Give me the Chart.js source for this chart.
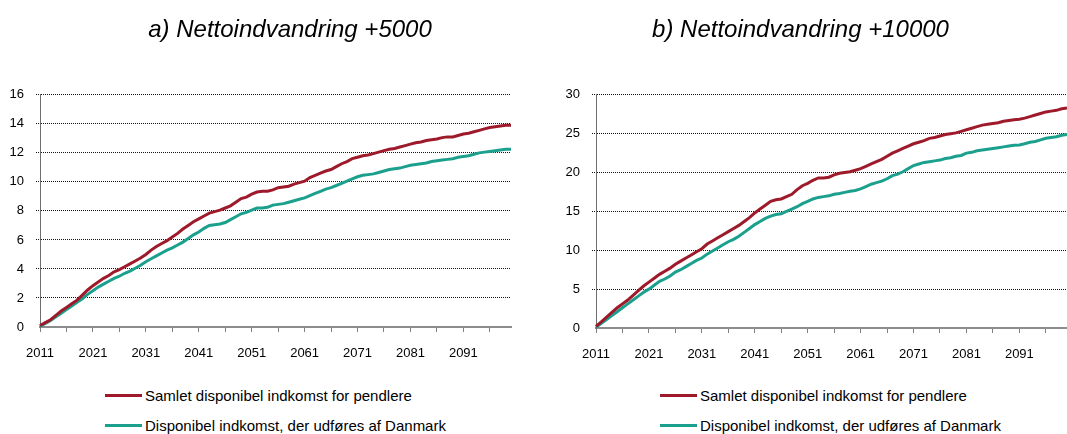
<!DOCTYPE html>
<html>
<head>
<meta charset="utf-8">
<script src="https://cdn.jsdelivr.net/npm/chart.js@4.4.0/dist/chart.umd.min.js"></script>
<style>
  body { margin: 0; background: #fff; width: 1067px; height: 434px; overflow: hidden; position: relative; }
  .box { position: absolute; top: 0; }
  .legend { position: absolute; font: 15px "Liberation Sans", Arial, sans-serif; color: #000; }
  .legend div { position: absolute; white-space: nowrap; height: 18px; line-height: 18px; }
  .legend span.ln { position: absolute; left: 0; top: 7px; width: 37px; height: 3px; }
  .legend span.tx { position: absolute; left: 40px; top: 0; }
</style>
</head>
<body>
<div class="box" style="left:0"><canvas id="chartA" width="580" height="363"></canvas></div>
<div class="box" style="left:534px"><canvas id="chartB" width="533" height="364"></canvas></div>
<div class="legend" id="legA" style="left:105px; top:387px"></div>
<div class="legend" id="legB" style="left:660px; top:387px"></div>

<script>
// years 2011 - 2100
const years = [];
for (let y = 2011; y <= 2100; y++) years.push(String(y));

const seriesNames = ['Samlet disponibel indkomst for pendlere', 'Disponibel indkomst, der udføres af Danmark'];
const titleA = 'a) Nettoindvandring +5000';
const titleB = 'b) Nettoindvandring +10000';

// a) +5000
const pendlereA = [
  0.1, 0.3, 0.5, 0.8, 1.1, 1.35, 1.6, 1.85, 2.2, 2.55,
  2.85, 3.1, 3.35, 3.55, 3.8, 3.95, 4.15, 4.35, 4.55, 4.75,
  5.0, 5.3, 5.55, 5.75, 5.95, 6.2, 6.45, 6.75, 7.0, 7.25,
  7.45, 7.65, 7.85, 7.95, 8.05, 8.2, 8.35, 8.6, 8.85, 8.95,
  9.15, 9.3, 9.35, 9.35, 9.45, 9.6, 9.65, 9.7, 9.85, 9.95,
  10.05, 10.3, 10.45, 10.6, 10.75, 10.85, 11.05, 11.25, 11.4, 11.6,
  11.7, 11.8, 11.85, 11.95, 12.05, 12.15, 12.25, 12.3, 12.4, 12.5,
  12.6, 12.7, 12.75, 12.85, 12.9, 12.95, 13.05, 13.1, 13.1, 13.2,
  13.3, 13.35, 13.45, 13.55, 13.65, 13.75, 13.8, 13.85, 13.9, 13.9
];
const udfoertA = [
  0.05, 0.25, 0.45, 0.7, 0.95, 1.2, 1.45, 1.7, 1.95, 2.25,
  2.5, 2.75, 2.95, 3.15, 3.35, 3.5, 3.7, 3.85, 4.05, 4.25,
  4.5, 4.7, 4.9, 5.1, 5.3, 5.45, 5.65, 5.85, 6.1, 6.35,
  6.55, 6.8, 7.0, 7.05, 7.1, 7.2, 7.4, 7.6, 7.8, 7.9,
  8.05, 8.2, 8.2, 8.25, 8.4, 8.45, 8.5, 8.6, 8.7, 8.8,
  8.9, 9.05, 9.2, 9.35, 9.5, 9.6, 9.75, 9.9, 10.05, 10.2,
  10.35, 10.45, 10.5, 10.55, 10.65, 10.75, 10.85, 10.9, 10.95, 11.05,
  11.15, 11.2, 11.25, 11.3, 11.4, 11.45, 11.5, 11.55, 11.6, 11.7,
  11.75, 11.8, 11.9, 12.0, 12.05, 12.1, 12.15, 12.2, 12.25, 12.25
];

// b) +10000
const pendlereB = [
  0.2, 0.8, 1.4, 2.0, 2.6, 3.1, 3.6, 4.2, 4.8, 5.4,
  5.9, 6.4, 6.9, 7.3, 7.7, 8.2, 8.6, 9.0, 9.4, 9.8,
  10.2, 10.8, 11.2, 11.6, 12.0, 12.4, 12.8, 13.2, 13.7, 14.2,
  14.8, 15.3, 15.8, 16.3, 16.5, 16.6, 16.9, 17.2, 17.8, 18.3,
  18.6, 19.0, 19.3, 19.3, 19.4, 19.7, 19.9, 20.0, 20.1, 20.3,
  20.5, 20.8, 21.1, 21.4, 21.7, 22.1, 22.5, 22.8, 23.1, 23.4,
  23.7, 23.9, 24.1, 24.4, 24.5, 24.7, 24.9, 25.0, 25.1, 25.3,
  25.5, 25.7, 25.9, 26.1, 26.2, 26.3, 26.4, 26.6, 26.7, 26.8,
  26.85, 27.0, 27.2, 27.4, 27.6, 27.8, 27.9, 28.0, 28.2, 28.3
];
const udfoertB = [
  0.1, 0.6, 1.1, 1.6, 2.1, 2.6, 3.1, 3.6, 4.1, 4.6,
  5.0, 5.5, 6.0, 6.3, 6.7, 7.2, 7.5, 7.9, 8.3, 8.7,
  9.0, 9.5, 9.9, 10.3, 10.7, 11.1, 11.4, 11.8, 12.3, 12.8,
  13.3, 13.7, 14.1, 14.4, 14.6, 14.7, 15.0, 15.3, 15.6, 16.0,
  16.3, 16.6, 16.8, 16.9, 17.0, 17.2, 17.3, 17.45, 17.6, 17.7,
  17.9, 18.2, 18.5, 18.7, 18.9, 19.2, 19.6, 19.8, 20.1, 20.5,
  20.9, 21.1, 21.3, 21.4, 21.5, 21.6, 21.8, 21.9, 22.1, 22.2,
  22.5, 22.6, 22.8, 22.9, 23.0, 23.1, 23.2, 23.3, 23.4, 23.5,
  23.55, 23.7, 23.9, 24.0, 24.2, 24.4, 24.5, 24.6, 24.8, 24.9
];

const yTicksA = { max: 16, step: 2 };
const yTicksB = { max: 30, step: 5 };

const RED = '#9e1a2b';
const TEAL = '#1aa08d';
const FONT = '"Liberation Sans", Arial, sans-serif';

function makeChart(id, title, red, teal, yt, axisWidth, padRight, xAxisHeight) {
  const ctx = document.getElementById(id).getContext('2d');
  return new Chart(ctx, {
    type: 'line',
    data: {
      labels: years,
      datasets: [
        { label: seriesNames[0], data: red, borderColor: RED, borderWidth: 3, pointRadius: 0, tension: 0 },
        { label: seriesNames[1], data: teal, borderColor: TEAL, borderWidth: 3, pointRadius: 0, tension: 0 }
      ]
    },
    options: {
      responsive: false,
      animation: false,
      plugins: {
        legend: { display: false },
        tooltip: { enabled: false },
        title: {
          display: true,
          text: title,
          color: '#000',
          font: { family: FONT, size: 24, style: 'italic', weight: 'normal' },
          padding: { top: 16, bottom: 50 }
        }
      },
      scales: {
        x: {
          type: 'category',
          offset: false,
          // keep room on the right without moving the title
          afterFit: s => { s.height = xAxisHeight; s.paddingRight = padRight; },
          grid: {
            drawOnChartArea: false,
            tickLength: 5,
            color: c => (c.index % 5 === 0 ? '#808080' : 'rgba(0,0,0,0)'),
            lineWidth: 1
          },
          border: { color: '#8c8c8c', width: 2 },
          ticks: {
            autoSkip: false,
            maxRotation: 0,
            padding: 14,
            color: '#000',
            font: { family: FONT, size: 13 },
            callback: (v, i) => (i % 10 === 0 ? years[i] : '')
          }
        },
        y: {
          min: 0,
          max: yt.max,
          afterFit: s => { s.width = axisWidth; },
          grid: {
            color: c => (c.tick && c.tick.value === 0 ? 'rgba(0,0,0,0)' : '#111'),
            tickLength: 4,
            tickBorderDash: [1, 1],
            lineWidth: 1
          },
          border: { color: '#6e6e6e', width: 1, dash: [1, 1] },
          ticks: {
            stepSize: yt.step,
            padding: 12,
            color: '#000',
            font: { family: FONT, size: 13 }
          }
        }
      }
    }
  });
}

const chartA = makeChart('chartA', titleA, pendlereA, udfoertA, yTicksA, 40, 69, 36);
const chartB = makeChart('chartB', titleB, pendlereB, udfoertB, yTicksB, 62, 0, 36);

function buildLegend(el, chart) {
  chart.data.datasets.forEach((ds, i) => {
    const row = document.createElement('div');
    row.style.top = (i * 30) + 'px';
    const ln = document.createElement('span');
    ln.className = 'ln';
    ln.style.background = ds.borderColor;
    const tx = document.createElement('span');
    tx.className = 'tx';
    tx.textContent = ds.label;
    row.appendChild(ln);
    row.appendChild(tx);
    el.appendChild(row);
  });
}
buildLegend(document.getElementById('legA'), chartA);
buildLegend(document.getElementById('legB'), chartB);
</script>
</body>
</html>
